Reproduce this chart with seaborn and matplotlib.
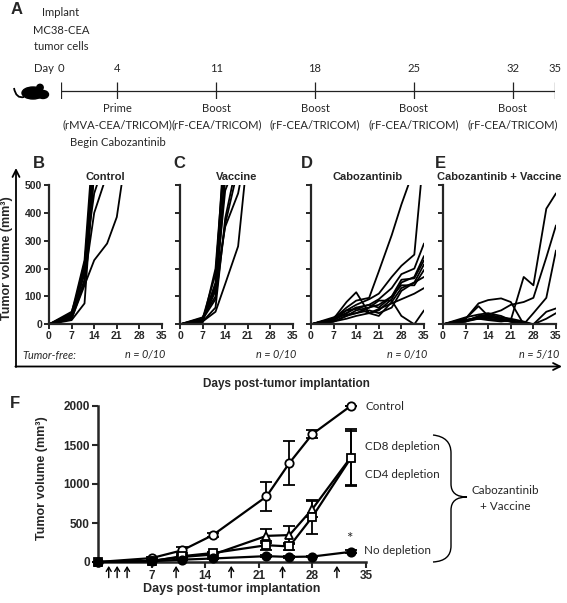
import numpy as np
import pandas as pd
import matplotlib
matplotlib.use("Agg")
import matplotlib.pyplot as plt
import matplotlib.transforms as mtransforms
from matplotlib.path import Path
from matplotlib.patches import PathPatch, Ellipse, Circle
import seaborn as sns

sns.set_style("ticks")
plt.rcParams['font.family'] = ['Liberation Sans', 'DejaVu Sans']
plt.rcParams['font.weight'] = 'bold'
NOTE = ['Lato', 'DejaVu Sans']

# ---- panel A: treatment schedule ----
sched_days = [0, 4, 11, 18, 25, 32, 35]
event_days = [4, 11, 18, 25, 32]
event_top = ["Prime", "Boost", "Boost", "Boost", "Boost"]
event_mid = ["(rMVA-CEA/TRICOM)", "(rF-CEA/TRICOM)", "(rF-CEA/TRICOM)",
             "(rF-CEA/TRICOM)", "(rF-CEA/TRICOM)"]
event_low = ["Begin Cabozantinib", "", "", "", ""]

# ---- panels B-E: individual tumor growth ----
growth_days = [0, 7, 11, 14, 18, 21, 25, 28, 32, 35]
control_mice = [
    [0, 25, 210, 620],
    [0, 30, 180, 560],
    [0, 40, 230, 700],
    [0, 20, 150, 540],
    [0, 35, 200, 650],
    [0, 15, 75, 560],
    [0, 30, 160, 400, 540],
    [0, 20, 140, 230, 290, 385, 700],
    [0, 45, 190, 600],
    [0, 28, 220, 470, 610],
]
vaccine_mice = [
    [0, 15, 120, 560],
    [0, 20, 180, 620],
    [0, 12, 150, 700],
    [0, 25, 100, 520],
    [0, 18, 90, 360, 560],
    [0, 10, 60, 380, 600],
    [0, 22, 140, 350, 470, 650],
    [0, 10, 45, 145, 280, 620],
    [0, 5, 200, 640],
    [0, 15, 130, 480, 600],
]
cabo_mice = [
    [0, 20, 60, 85, 95, 190, 320, 430, 560],
    [0, 15, 50, 70, 90, 110, 170, 210, 250, 625],
    [0, 20, 40, 60, 70, 90, 130, 180, 200, 290],
    [0, 20, 80, 115, 40, 50, 90, 150, 170, 245],
    [0, 10, 30, 50, 60, 70, 100, 160, 165, 230],
    [0, 15, 40, 60, 40, 30, 80, 130, 150, 215],
    [0, 25, 50, 55, 70, 60, 100, 140, 140, 195],
    [0, 20, 35, 40, 50, 40, 60, 120, 150, 170],
    [0, 10, 20, 30, 40, 55, 75, 90, 110, 130],
    [0, 10, 30, 40, 60, 85, 85, 30, 0, 50],
]
cabovac_mice = [
    [0, 10, 20, 15, 10, 15, 170, 140, 415, 470],
    [0, 15, 25, 35, 50, 70, 80, 95, 240, 355],
    [0, 15, 25, 20, 15, 10, 0, 40, 95, 265],
    [0, 20, 75, 87, 93, 80, 0, 0, 0, 0],
    [0, 20, 65, 30, 20, 10, 0, 0, 0, 0],
    [0, 15, 20, 20, 15, 10, 5, 0, 45, 57],
    [0, 10, 25, 30, 20, 15, 5, 0, 20, 40],
    [0, 25, 35, 40, 30, 15, 5, 0, 0, 0],
    [0, 15, 20, 25, 20, 10, 0, 0, 0, 0],
    [0, 10, 30, 35, 25, 20, 10, 0, 0, 0],
]
group_titles = ["Control", "Vaccine", "Cabozantinib", "Cabozantinib + Vaccine"]
group_letters = ["B", "C", "D", "E"]
tumor_free = ["n = 0/10", "n = 0/10", "n = 0/10", "n = 5/10"]

rows = []
for g, mice in zip(group_titles, [control_mice, vaccine_mice, cabo_mice, cabovac_mice]):
    for i, curve in enumerate(mice):
        for d, v in zip(growth_days, curve):
            rows.append({"group": g, "mouse": i, "day": d, "volume": v})
growth = pd.DataFrame(rows)

# ---- panel F: depletion study (mean +/- SEM) ----
f_days = [0, 7, 11, 15, 22, 25, 28, 33]
f_control = [0, 50, 150, 345, 840, 1270, 1640, 2000]
f_control_err = [0, 10, 40, 30, 190, 280, 50, 0]
f_cd8 = [0, 15, 65, 95, 335, 345, 680, 1340]
f_cd8_err = [0, 5, 15, 20, 85, 120, 100, 360]
f_cd4 = [0, 10, 75, 115, 215, 200, 580, 1330]
f_cd4_err = [0, 5, 15, 15, 60, 40, 220, 345]
f_nodep = [0, 10, 30, 45, 75, 65, 70, 130]
f_nodep_err = [0, 3, 8, 10, 15, 10, 10, 20]
depletion_days = [1.4, 2.5, 3.8, 10.2, 17.4, 24.1, 31.2]

W, H = 567, 603
fig = plt.figure(figsize=(W / 100, H / 100), dpi=100)

# pixel overlay for annotations
ov = fig.add_axes([0, 0, 1, 1])
ov.set_xlim(0, W)
ov.set_ylim(H, 0)
ov.axis('off')
ov.set_zorder(10)

def note(x, y, s, **kw):
    kw.setdefault('fontsize', 8.1)
    kw.setdefault('ha', 'center')
    kw.setdefault('va', 'center')
    ov.text(x, y, s, family=NOTE, fontweight='normal', **kw)

# ---- A ----
ov.text(17, 10, "A", fontsize=12, fontweight='bold', ha='center', va='center')
for y, s in zip([13, 30, 46], ["Implant", "MC38-CEA", "tumor cells"]):
    note(61, y, s)

ax_a = fig.add_axes([61 / W, 1 - 99 / H, (555 - 61) / W, 17 / H])
ax_a.set_xlim(0, 35)
ax_a.set_ylim(0, 1)
ax_a.axis('off')
ax_a.hlines(0.5, sched_days[0], sched_days[-1], color='#222222', lw=0.9)
ax_a.vlines(sched_days, 0, 1, color='#222222', lw=0.9)
blend = mtransforms.blended_transform_factory(ax_a.transData, ov.transData)
for d in sched_days:
    ov.text(d, 68, str(d), transform=blend, family=NOTE, fontweight='normal',
            fontsize=8.1, ha='center', va='center')
note(54, 68, "Day", ha='right')
for d, t, m, l in zip(event_days, event_top, event_mid, event_low):
    for y, s in zip([109, 125, 142], [t, m, l]):
        if s:
            ov.text(d, y, s, transform=blend, family=NOTE, fontweight='normal',
                    fontsize=8.1, ha='center', va='center')

# mouse icon
ov.add_patch(Ellipse((33, 93), 22, 12, color='black'))
ov.add_patch(Ellipse((43, 94.5), 11, 8, color='black'))
ov.add_patch(Circle((40, 87.5), 3.2, color='black'))
tail = Path([(24, 97), (16, 99), (14, 88)], [Path.MOVETO, Path.CURVE3, Path.CURVE3])
ov.add_patch(PathPatch(tail, fill=False, lw=1.3, color='black'))

# ---- B-E ----
panel_lefts = [49, 180, 311, 443]
for k, (g, left) in enumerate(zip(group_titles, panel_lefts)):
    ax = fig.add_axes([left / W, 1 - 324.3 / H, 113 / W, 139.3 / H])
    sub = growth[growth["group"] == g]
    sns.lineplot(data=sub, x="day", y="volume", units="mouse", estimator=None,
                 color='black', lw=1.3, ax=ax, legend=False)
    ax.set_xlim(0, 35)
    ax.set_ylim(0, 500)
    ax.set_xticks(range(0, 36, 7))
    ax.set_yticks(range(0, 501, 100))
    if k > 0:
        ax.set_yticklabels([])
    ax.set_xlabel("")
    ax.set_ylabel("")
    sns.despine(ax=ax)
    for sp in ["left", "bottom"]:
        ax.spines[sp].set_linewidth(1.6)
    ax.tick_params(labelsize=7.5, width=1.4, length=3.5, pad=1.5)
    ax.text(0.5, 1.055, g, transform=ax.transAxes, ha='center', va='center',
            fontsize=8, fontweight='bold')
    ax.text(1.03, -0.22, tumor_free[k], transform=ax.transAxes, ha='right',
            va='center', family=NOTE, fontweight='normal', style='italic',
            fontsize=7.8)
    ov.text([39, 179, 307, 440][k], 163, group_letters[k], fontsize=12,
            fontweight='bold', ha='center', va='center')

note(22, 356, "Tumor-free:", ha='left', style='italic', fontsize=7.8)
ov.annotate('', xy=(16, 168), xytext=(16, 367),
            arrowprops=dict(arrowstyle='->,head_length=0.5,head_width=0.25',
                            lw=1.3, color='black', shrinkA=0, shrinkB=0))
ov.annotate('', xy=(562, 366.5), xytext=(15.4, 366.5),
            arrowprops=dict(arrowstyle='->,head_length=0.5,head_width=0.25',
                            lw=1.3, color='black', shrinkA=0, shrinkB=0))
ov.text(7, 258, "Tumor volume (mm³)", rotation=90, ha='center', va='center',
        fontsize=9, fontweight='bold')
ov.text(286, 384, "Days post-tumor implantation", ha='center', va='center',
        fontsize=8.5, fontweight='bold')

# ---- F ----
ov.text(15, 404, "F", fontsize=12, fontweight='bold', ha='center', va='center')
axF = fig.add_axes([98 / W, 1 - 562 / H, 268 / W, 156 / H])
series = [
    (f_control, f_control_err, 'o', 'white'),
    (f_cd8, f_cd8_err, '^', 'white'),
    (f_cd4, f_cd4_err, 's', 'white'),
    (f_nodep, f_nodep_err, 'o', 'black'),
]
for vals, err, mk, fc in series:
    axF.errorbar(f_days, vals, yerr=err, fmt='none', ecolor='black',
                 elinewidth=1.3, capsize=4, capthick=1.3, zorder=2, clip_on=False)
    sns.lineplot(x=f_days, y=vals, marker=mk, markersize=6, markerfacecolor=fc,
                 markeredgecolor='black', markeredgewidth=1.3, color='black',
                 lw=1.6, ax=axF, zorder=3, clip_on=False)
axF.set_xlim(0, 35)
axF.set_ylim(0, 2000)
axF.set_xticks(range(7, 36, 7))
axF.set_yticks(range(0, 2001, 500))
sns.despine(ax=axF)
for sp in ["left", "bottom"]:
    axF.spines[sp].set_linewidth(1.8)
axF.tick_params(labelsize=8.5, width=1.5, length=4, pad=2)
for d in depletion_days:
    axF.annotate('', xy=(d, -0.025), xytext=(d, -0.1),
                 xycoords=axF.get_xaxis_transform(),
                 textcoords=axF.get_xaxis_transform(),
                 arrowprops=dict(arrowstyle='->,head_length=0.3,head_width=0.18',
                                 lw=1.0, color='black', shrinkA=0, shrinkB=0),
                 annotation_clip=False)
ov.text(42, 478, "Tumor volume (mm³)", rotation=90, ha='center', va='center',
        fontsize=9, fontweight='bold')
ov.text(232, 589, "Days post-tumor implantation", ha='center', va='center',
        fontsize=9, fontweight='bold')

note(366, 406, "Control", ha='left', fontsize=8.4)
note(365, 447, "CD8 depletion", ha='left', fontsize=8.4)
note(365, 475, "CD4 depletion", ha='left', fontsize=8.4)
note(364, 551, "No depletion", ha='left', fontsize=8.4)
note(349, 539, "*", fontsize=11)
brace = Path(
    [(433, 435), (451, 437), (451, 453), (451, 484), (451, 497), (467, 497),
     (451, 497), (451, 510), (451, 546), (451, 561), (433, 562)],
    [Path.MOVETO, Path.CURVE3, Path.CURVE3, Path.LINETO, Path.CURVE3, Path.CURVE3,
     Path.CURVE3, Path.CURVE3, Path.LINETO, Path.CURVE3, Path.CURVE3])
ov.add_patch(PathPatch(brace, fill=False, lw=1.0, color='black'))
note(505, 491, "Cabozantinib", fontsize=8.4)
note(505, 506, "+ Vaccine", fontsize=8.4)

fig.savefig("out.png", dpi=100)
